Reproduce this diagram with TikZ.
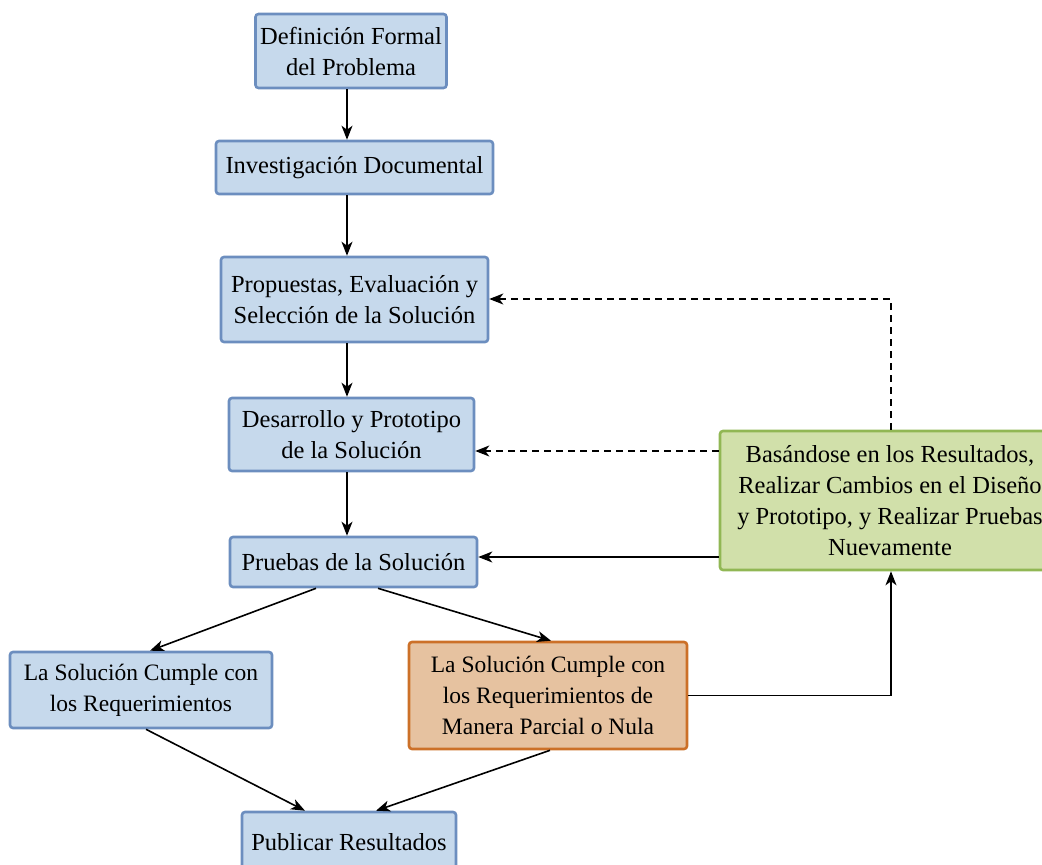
\documentclass[tikz,border=0pt]{standalone}
\usepackage{fontspec}
\setmainfont{Liberation Serif}
\usetikzlibrary{arrows.meta}
\definecolor{bluefill}{RGB}{198,217,236}
\definecolor{blueline}{RGB}{108,142,191}
\definecolor{orangefill}{RGB}{230,194,160}
\definecolor{orangeline}{RGB}{204,112,40}
\definecolor{greenfill}{RGB}{209,224,170}
\definecolor{greenline}{RGB}{145,183,84}
\tikzset{
  box/.style={draw=blueline, fill=bluefill, line width=2.6pt, rounded corners=3pt,
    align=center, inner sep=0pt, font=\fontsize{24.5}{31}\selectfont},
  narrowbox/.style={box, font=\fontsize{23.5}{31}\selectfont},
  orangebox/.style={narrowbox, draw=orangeline, fill=orangefill},
  greenbox/.style={box, draw=greenline, fill=greenfill},
  flow/.style={line width=1.6pt, -{Stealth[length=14pt,width=11pt,inset=4pt]}},
  dashflow/.style={flow, dash pattern=on 7pt off 5pt},
}
\begin{document}
\begin{tikzpicture}[x=1pt,y=1pt]
\useasboundingbox (0,0) rectangle (1042,-865);

% process boxes
\node[box, minimum width=191, minimum height=74] (def) at (351,-51) {Definición Formal\\del Problema};
\node[box, minimum width=277, minimum height=53] (inv) at (354.5,-167.5) {Investigación Documental};
\node[box, minimum width=267, minimum height=85] (prop) at (354.5,-299.5) {Propuestas, Evaluación y\\Selección de la Solución};
\node[box, minimum width=245, minimum height=73] (des) at (351.5,-434.5) {Desarrollo y Prototipo\\de la Solución};
\node[box, minimum width=247, minimum height=50] (pru) at (353.5,-562) {Pruebas de la Solución};
\node[narrowbox, minimum width=262, minimum height=76] (ok) at (141,-690) {La Solución Cumple con\\los Requerimientos};
\node[orangebox, minimum width=278, minimum height=107] (part) at (548,-695.5) {La Solución Cumple con\\los Requerimientos de\\Manera Parcial o Nula};
\node[box, minimum width=214, minimum height=60] (pub) at (349,-842) {Publicar Resultados};
\node[greenbox, minimum width=340, minimum height=139] (camb) at (890,-500.5) {Basándose en los Resultados,\\Realizar Cambios en el Diseño\\y Prototipo, y Realizar Pruebas\\Nuevamente};

% main sequence
\draw[flow] (def.south -| 347,0) -- (inv.north -| 347,0);
\draw[flow] (inv.south -| 347,0) -- (prop.north -| 347,0);
\draw[flow] (prop.south -| 347,0) -- (des.north -| 347,0);
\draw[flow] (des.south -| 347,0) -- (pru.north -| 347,0);

% outcomes
\draw[flow] (pru.south -| 316,0) -- (ok.north -| 150,0);
\draw[flow] (pru.south -| 378,0) -- (part.north -| 551,0);
\draw[flow] (ok.south -| 146,0) -- (pub.north -| 305,0);
\draw[flow] (part.south -| 550,0) -- (pub.north -| 376,0);

% rework loop
\draw[flow] (part.east) -- (part.east -| 891,0) -- (camb.south -| 891,0);
\draw[flow] (camb.west |- 0,-557) -- (pru.east |- 0,-557);
\draw[dashflow] (camb.west |- 0,-451) -- (des.east |- 0,-451);
\draw[dashflow] (camb.north -| 891,0) -- (891,-299) -- (prop.east |- 0,-299);
\end{tikzpicture}
\end{document}
